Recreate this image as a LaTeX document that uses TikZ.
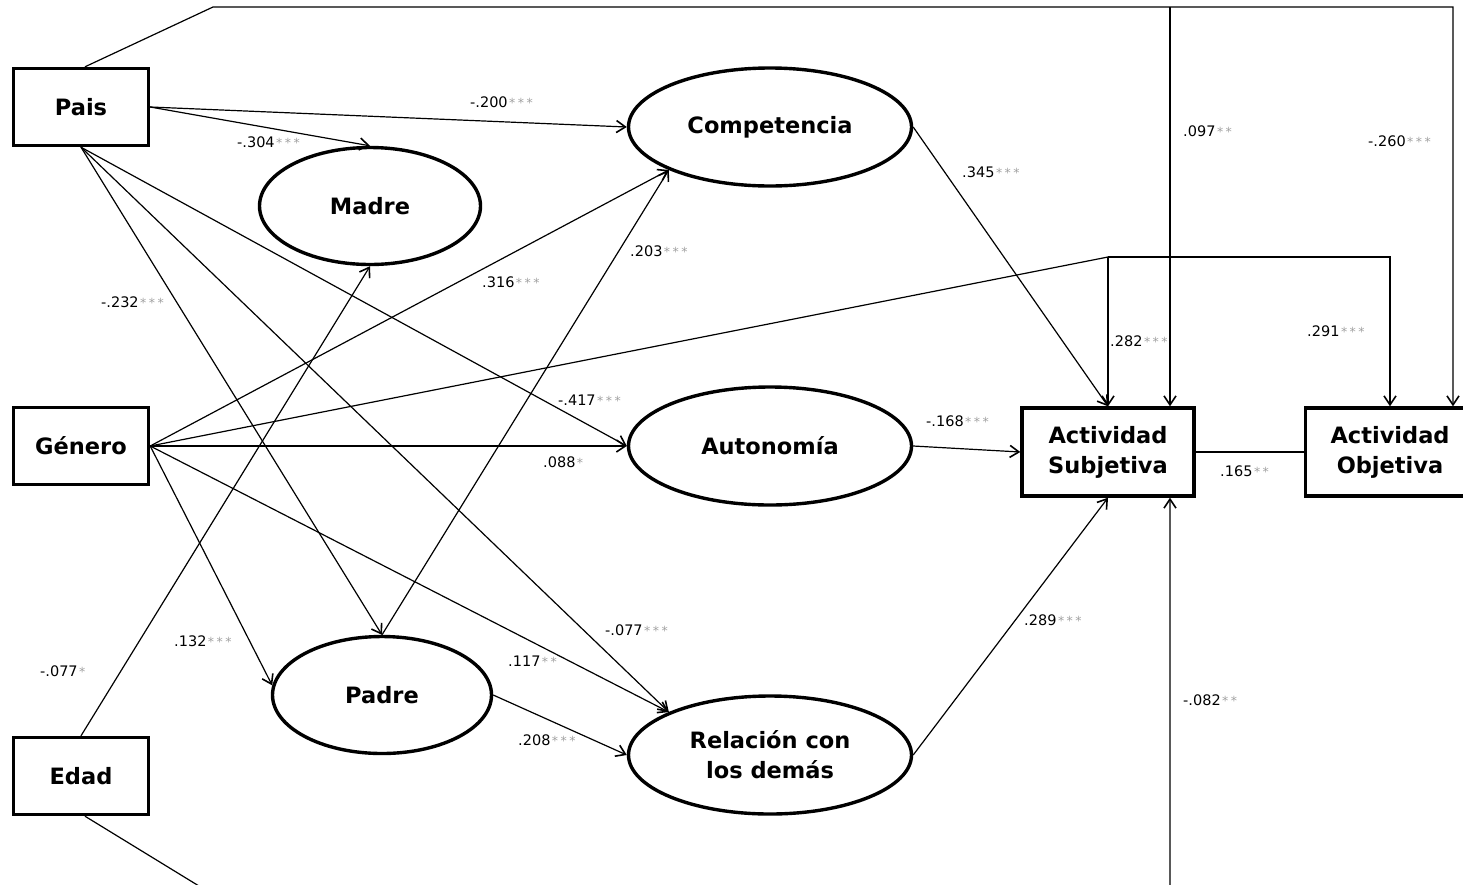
\documentclass[tikz,border=0pt]{standalone}
\usepackage{fontspec}
\setmainfont{DejaVu Sans}
\usetikzlibrary{shapes.geometric,arrows.meta}
\definecolor{sgray}{RGB}{160,160,160}
% significance stars, set in grey after each coefficient
\newcommand\sig[1]{{\color{sgray}\fontsize{12.5}{12}\selectfont\kern1.5pt#1}}
\newcommand\sone{\sig{*}}
\newcommand\stwo{\sig{*\kern2.5pt*}}
\newcommand\sthree{\sig{*\kern2.5pt*\kern2.5pt*}}

\begin{document}
\begin{tikzpicture}[x=1pt,y=-1pt,
  obs/.style={draw,line width=3.4pt,rectangle,inner sep=0pt,align=center,
    font=\fontsize{22.5}{30}\selectfont\bfseries},
  lat/.style={draw,line width=3.4pt,ellipse,inner sep=0pt,align=center,
    font=\fontsize{22.5}{30}\selectfont\bfseries},
  pth/.style={line width=1.2pt,-{Straight Barb[length=9pt,width=12pt,line width=1.6pt]}},
  lnk/.style={line width=1.2pt},
  coef/.style={anchor=west,inner sep=0pt,font=\fontsize{14.5}{16}\selectfont}
]
\clip (0,0) rectangle (1463,884);
\useasboundingbox (0,0) rectangle (1463,884);

% observed variables
\node[obs,minimum width=135pt,minimum height=77pt] (pais) at (81,107) {Pais};
\node[obs,minimum width=135pt,minimum height=77pt] (gen)  at (81,446) {Género};
\node[obs,minimum width=135pt,minimum height=77pt] (edad) at (81,776) {Edad};
\node[obs,minimum width=172pt,minimum height=88pt] (subj) at (1108,452) {Actividad\\Subjetiva};
\node[obs,minimum width=169pt,minimum height=88pt] (obj)  at (1390,452) {Actividad\\Objetiva};

% latent variables
\node[lat,minimum width=221pt,minimum height=117pt] (madre) at (370,206) {Madre};
\node[lat,minimum width=219pt,minimum height=117pt] (padre) at (382,695) {Padre};
\node[lat,minimum width=283pt,minimum height=118pt] (comp)  at (770,127) {Competencia};
\node[lat,minimum width=283pt,minimum height=118pt] (aut)   at (770,446) {Autonomía};
\node[lat,minimum width=283pt,minimum height=118pt] (rel)   at (770,755) {Relación con\\los demás};

% routing points for the long paths
\coordinate (tl) at (213,7);
\coordinate (tj) at (1170,7);
\coordinate (tr) at (1453,7);
\coordinate (gj) at (1108,257);
\coordinate (gr) at (1390,257);
\coordinate (bl) at (230,905);
\coordinate (bj) at (1170,905);

% paths from Pais
\draw[pth] (pais.east) -- (comp.west);
\draw[pth] (pais.east) -- (madre.north);
\draw[pth] (pais.south) -- (padre.north);
\draw[pth] (pais.south) -- (aut.west);
\draw[pth] (pais.south) -- (rel.157);
\draw[pth] ([xshift=4pt]pais.north) -- (tl) -- (tr) -- (tr |- obj.north);
\draw[pth] (tj) -- (tj |- subj.north);

% paths from Género
\draw[pth] (gen.east) -- (comp.203);
\draw[pth] (gen.east) -- (aut.west);
\draw[pth] (gen.east) -- (rel.157);
\draw[pth] (gen.east) -- (padre.175);
\draw[lnk] (gen.east) -- (gj);
\draw[pth] (gj) -- (subj.north);
\draw[pth] (gj) -- (gr) -- (obj.north);

% paths from Edad
\draw[pth] (edad.north) -- (madre.south);
\draw[pth] ([xshift=4pt]edad.south) -- (bl) -- (bj) -- (bj |- subj.south);

% paths from Padre
\draw[pth] (padre.north) -- (comp.203);
\draw[pth] (padre.east) -- (rel.west);

% paths into Actividad Subjetiva
\draw[pth] (comp.east) -- (subj.north);
\draw[pth] (aut.east) -- (subj.west);
\draw[pth] (rel.east) -- (subj.south);
\draw[lnk] (subj.east) -- (obj.west);

% coefficients
\node[coef] (k01) at (470,102) {-.200\sthree};
\node[coef] (k02) at (237,142) {-.304\sthree};
\node[coef] (k03) at (482,282) {.316\sthree};
\node[coef] (k04) at (630,251) {.203\sthree};
\node[coef] (k05) at (962,172) {.345\sthree};
\node[coef] (k06) at (1183,131) {.097\stwo};
\node[coef] (k07) at (1368,141) {-.260\sthree};
\node[coef] (k08) at (1110,341) {.282\sthree};
\node[coef] (k09) at (1307,331) {.291\sthree};
\node[coef] (k10) at (101,302) {-.232\sthree};
\node[coef] (k11) at (558,400) {-.417\sthree};
\node[coef] (k12) at (543,462) {.088\sone};
\node[coef] (k13) at (926,421) {-.168\sthree};
\node[coef] (k14) at (1220,471) {.165\stwo};
\node[coef] (k15) at (174,641) {.132\sthree};
\node[coef] (k16) at (40,671) {-.077\sone};
\node[coef] (k17) at (605,630) {-.077\sthree};
\node[coef] (k18) at (508,661) {.117\stwo};
\node[coef] (k19) at (1024,620) {.289\sthree};
\node[coef] (k20) at (518,740) {.208\sthree};
\node[coef] (k21) at (1183,700) {-.082\stwo};
\end{tikzpicture}
\end{document}
